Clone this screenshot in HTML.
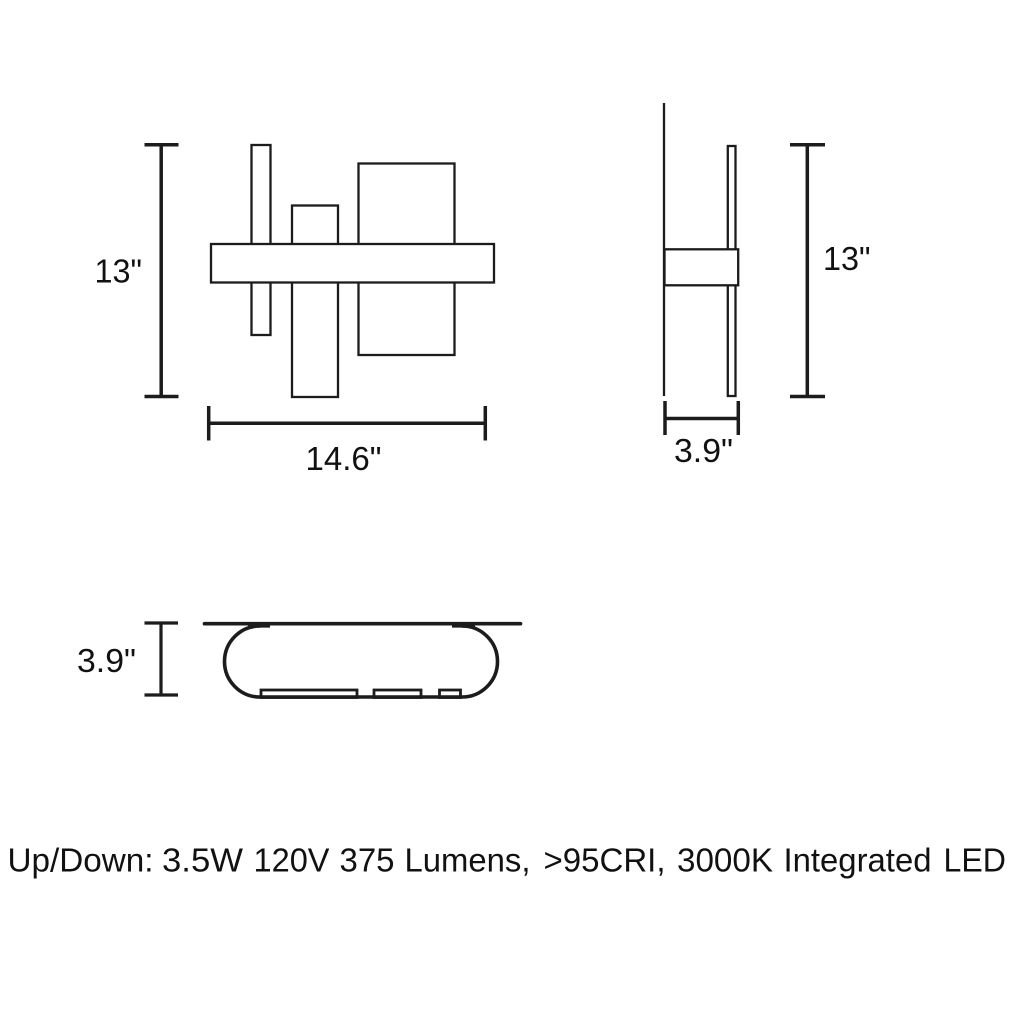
<!DOCTYPE html>
<html>
<head>
<meta charset="utf-8">
<style>
html,body{margin:0;padding:0;background:#fff;width:1024px;height:1024px;overflow:hidden}
svg{display:block}
text{font-family:"Liberation Sans",Arial,sans-serif;fill:#111;font-size:33.5px}
</style>
</head>
<body>
<svg width="1024" height="1024" viewBox="0 0 1024 1024" xmlns="http://www.w3.org/2000/svg">
<rect width="1024" height="1024" fill="#fff"/>
<!-- front view -->
<g fill="none" stroke="#1c1c1c" stroke-width="2.300">
<rect x="251.500" y="145" width="19" height="190"/>
<rect x="292" y="205.500" width="46" height="191.500"/>
<rect x="358.500" y="163.500" width="96" height="191.500"/>
<rect x="211" y="244" width="283" height="38.500" fill="#fff"/>
</g>
<!-- front dimensions -->
<g fill="none" stroke="#1c1c1c" stroke-width="3.500">
<path d="M144.500 144.700H178.500M161.200 144.700V396.500M144.500 396.500H178.500"/>
<path d="M208.700 406V440.500M208.700 423.200H485.300M485.300 406V440.500"/>
</g>
<text x="94.500" y="282.500" textLength="47.500" lengthAdjust="spacingAndGlyphs">13"</text>
<text x="305.500" y="470" textLength="76" lengthAdjust="spacingAndGlyphs">14.6"</text>
<!-- side view -->
<g fill="none" stroke="#1c1c1c" stroke-width="2.300">
<path d="M664 103V396"/>
<rect x="727.800" y="146" width="7.700" height="250"/>
<rect x="664.500" y="249.300" width="73.700" height="36" fill="#fff"/>
</g>
<g fill="none" stroke="#1c1c1c" stroke-width="3.500">
<path d="M790 144.700H825M807.300 144.700V396.500M790 396.500H825"/>
<path d="M665 401V435M665 418.500H738.300M738.300 401V435"/>
</g>
<text x="823" y="270" textLength="47.500" lengthAdjust="spacingAndGlyphs">13"</text>
<text x="674" y="462" textLength="59" lengthAdjust="spacingAndGlyphs">3.9"</text>
<!-- bottom view -->
<g fill="none" stroke="#1c1c1c">
<path d="M204.500 623.700H520.500" stroke-width="3.700" stroke-linecap="round"/>
<path d="M260 626A35.500 35.500 0 0 0 260 697H462A35.500 35.500 0 0 0 462 626" stroke-width="3.600"/>
<path d="M248 625.800H270M452 625.800H475" stroke-width="3.600"/>
<rect x="261" y="690" width="96" height="7.500" stroke-width="2.800"/>
<rect x="374" y="690" width="47" height="7.500" stroke-width="2.800"/>
<rect x="439.500" y="690" width="21" height="7.500" stroke-width="2.800"/>
</g>
<g fill="none" stroke="#1c1c1c" stroke-width="3.200">
<path d="M144.500 623H178M161 623V695M144.500 695H178"/>
</g>
<text x="77" y="672" textLength="59" lengthAdjust="spacingAndGlyphs">3.9"</text>
<!-- caption -->
<g>
<text x="7.500" y="871.500" textLength="146" lengthAdjust="spacingAndGlyphs">Up/Down:</text>
<text x="162" y="871.500" textLength="81" lengthAdjust="spacingAndGlyphs">3.5W</text>
<text x="253.500" y="871.500" textLength="76" lengthAdjust="spacingAndGlyphs">120V</text>
<text x="339.500" y="871.500" textLength="55" lengthAdjust="spacingAndGlyphs">375</text>
<text x="404.500" y="871.500" textLength="126" lengthAdjust="spacingAndGlyphs">Lumens,</text>
<text x="543.500" y="871.500" textLength="122" lengthAdjust="spacingAndGlyphs">&gt;95CRI,</text>
<text x="677" y="871.500" textLength="96" lengthAdjust="spacingAndGlyphs">3000K</text>
<text x="783.500" y="871.500" textLength="148" lengthAdjust="spacingAndGlyphs">Integrated</text>
<text x="943.500" y="871.500" textLength="62.500" lengthAdjust="spacingAndGlyphs">LED</text>
</g>
</svg>
</body>
</html>
